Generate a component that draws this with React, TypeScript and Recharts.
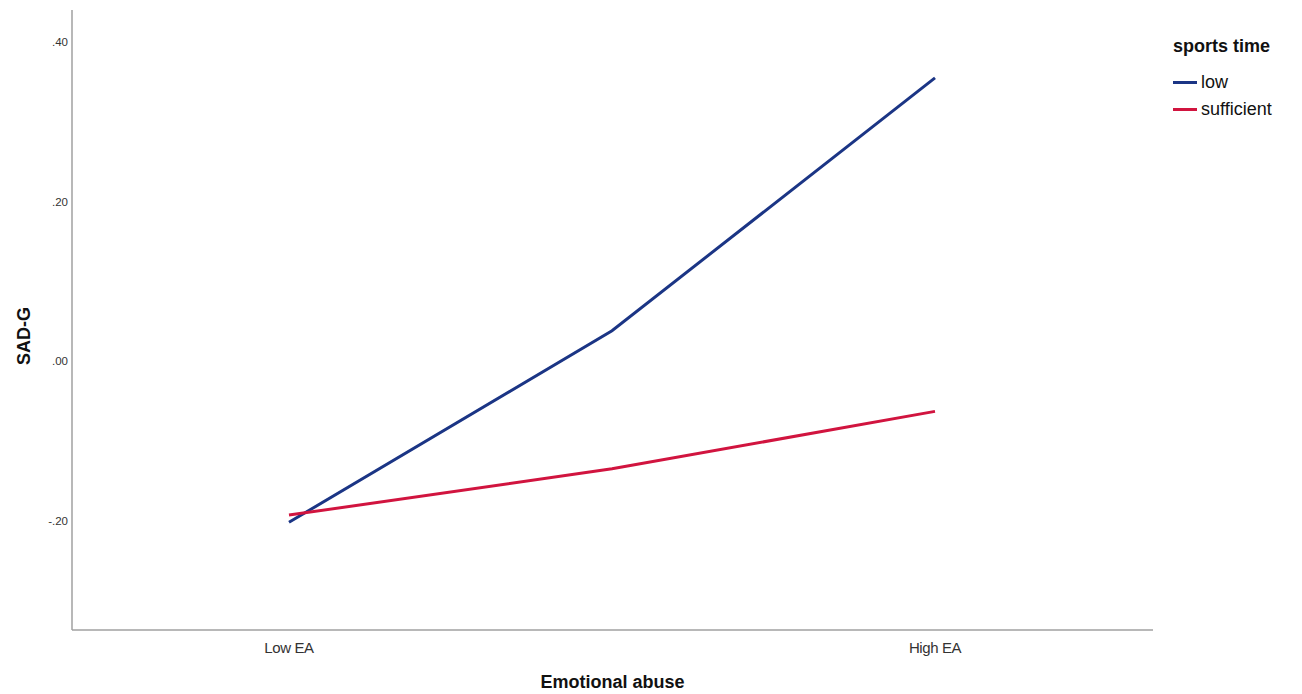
import { LineChart, Line, XAxis, YAxis } from "recharts";

// ---------------------------------------------------------------------------
// Data
// ---------------------------------------------------------------------------

const categories = ["Low EA", "", "High EA"];
const lowSeries = [-0.202, 0.038, 0.355];
const sufficientSeries = [-0.193, -0.135, -0.063];
const yTicks = [-0.2, 0, 0.2, 0.4];

const seriesInfo = [
  { key: "low", name: "low", color: "#1b3585" },
  { key: "sufficient", name: "sufficient", color: "#d1143f" },
];

const chartData = categories.map((c, i) => ({
  cat: c,
  low: lowSeries[i],
  sufficient: sufficientSeries[i],
}));

// ---------------------------------------------------------------------------
// Helpers
// ---------------------------------------------------------------------------

const font = "'Liberation Sans', Arial, sans-serif";

function fmtTick(v: number): string {
  const s = Math.abs(v).toFixed(2).replace(/^0/, "");
  return v < 0 ? `-${s}` : s;
}

function LegendBox() {
  return (
    <div style={{ position: "absolute", left: 1173, top: 36, fontFamily: font, color: "#111" }}>
      <div style={{ fontSize: 18, fontWeight: 700, marginBottom: 12 }}>sports time</div>
      {seriesInfo.map((s) => (
        <div key={s.key} style={{ display: "flex", alignItems: "center", height: 27 }}>
          <div style={{ width: 24, height: 3, background: s.color, marginRight: 4 }} />
          <span style={{ fontSize: 18 }}>{s.name}</span>
        </div>
      ))}
    </div>
  );
}

// ---------------------------------------------------------------------------
// Component
// ---------------------------------------------------------------------------

export default function App() {
  return (
    <div style={{ position: "absolute", left: 0, top: 0, width: 1302, height: 694, background: "#fff" }}>
      <LineChart
        width={1302}
        height={694}
        data={chartData}
        margin={{ top: 10, right: 149, left: 0, bottom: 0 }}
      >
        <XAxis
          dataKey="cat"
          height={64}
          padding={{ left: 217, right: 218 }}
          tickLine={false}
          axisLine={{ stroke: "#a0a0a0", strokeWidth: 1.5 }}
          tick={{ fontSize: 15, fill: "#333", fontFamily: font, letterSpacing: -0.4 }}
          tickMargin={6}
          label={{
            value: "Emotional abuse",
            position: "insideBottom",
            offset: 6,
            style: { fontSize: 18, fontWeight: 700, fill: "#111", fontFamily: font },
          }}
        />
        <YAxis
          width={72}
          type="number"
          domain={[-0.337, 0.44]}
          ticks={yTicks}
          tickFormatter={fmtTick}
          tickLine={false}
          axisLine={{ stroke: "#a0a0a0", strokeWidth: 1.5 }}
          tick={{ fontSize: 11.5, fill: "#333", fontFamily: font }}
          tickMargin={-2}
          allowDataOverflow
          label={{
            value: "SAD-G",
            angle: -90,
            position: "insideLeft",
            offset: 24,
            dy: 16,
            style: { fontSize: 18, fontWeight: 700, fill: "#111", fontFamily: font, textAnchor: "middle" },
          }}
        />
        {seriesInfo.map((s) => (
          <Line
            key={s.key}
            dataKey={s.key}
            name={s.name}
            type="linear"
            stroke={s.color}
            strokeWidth={3}
            dot={false}
            activeDot={false}
            isAnimationActive={false}
          />
        ))}
      </LineChart>
      <LegendBox />
    </div>
  );
}
